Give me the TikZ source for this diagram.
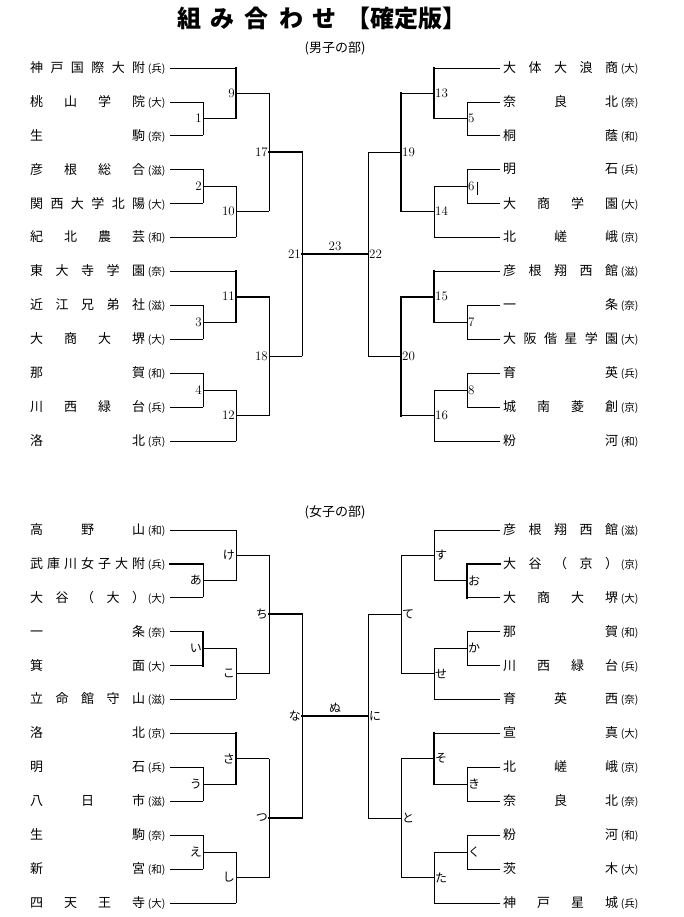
\documentclass[tikz,border=0pt]{standalone}
\usepackage{fontspec}
\newfontfamily\jp{Noto Sans CJK JP}
\def\distx#1#2{#1\ifx\relax#2\else\hfill\expandafter\distx\expandafter#2\fi}
\newcommand\dist[1]{\makebox[115pt][s]{\expandafter\distx#1\relax}}
\newcommand\pref[1]{\makebox[23pt][c]{\fontsize{10.5}{11}\selectfont(#1)}}
\newcommand\brk{%
  \foreach \y/\x in {68/236,102/203,135/203,169/203,203/203,237/236,271/236,305/203,339/203,373/203,407/203,441/236}
    \draw[thin line] (170,\y) -- (\x,\y);
  \foreach \a/\b in {102/135,169/203,305/339,373/407} \draw[thin line] (203,\a) -- (203,\b);
  \foreach \m in {118.5,186,322,390} \draw[thin line] (203,\m) -- (236,\m);
  \foreach \a/\b in {68/118.5,186/237,271/322,390/441} \draw[thin line] (236,\a) -- (236,\b);
  \foreach \m in {93,211.5,296.5,415.5} \draw[thin line] (236,\m) -- (269,\m);
  \foreach \a/\b in {93/211.5,296.5/415.5} \draw[thin line] (269,\a) -- (269,\b);
  \foreach \m in {152,356} \draw[thin line] (269,\m) -- (302,\m);
  \draw[thin line] (302,152) -- (302,356);
}
\tikzset{thin line/.style={line width=0.8pt},thick line/.style={line width=2pt,line cap=rect},
  nm/.style={anchor=west,inner sep=0pt,font=\jp\fontsize{13}{13}\selectfont},
  lab/.style={inner sep=1pt,font=\fontsize{13}{13}\selectfont},
  kana/.style={inner sep=1pt,font=\jp\fontsize{12}{12}\selectfont}}
\begin{document}
\begin{tikzpicture}[x=1pt,y=-1pt]
\useasboundingbox[fill=white] (0,0) rectangle (683,917);
\node[inner sep=0pt,font=\jp\bfseries\fontsize{24}{24}\selectfont] (title) at (322,18) {\makebox[290pt][s]{組\hfill み\hfill 合\hfill わ\hfill せ\hfill 【確定版】}};
\node[font=\jp\fontsize{13}{13}\selectfont] (boys) at (335,48) {(男子の部)};
\node[font=\jp\fontsize{13}{13}\selectfont] (girls) at (335,512) {(女子の部)};
% brackets
\brk
\begin{scope}[xshift=670pt,xscale=-1]\brk\end{scope}
\begin{scope}[yshift=-462pt]\brk\end{scope}
\begin{scope}[yshift=-462pt,xshift=670pt,xscale=-1]\brk\end{scope}
% thick winners, boys
\draw[thick line] (236,68) -- (236,118.5);
\draw[thick line] (269,152) -- (302,152);
\draw[thick line] (236,271) -- (236,322);
\draw[thick line] (236,296.5) -- (269,296.5);
\draw[thick line] (302,254) -- (368,254);
\draw[thick line] (434,68) -- (434,118.5);
\draw[thick line] (401,93) -- (401,211.5);
\draw[thick line] (434,271) -- (434,322);
\draw[thick line] (434,296.5) -- (401,296.5);
\draw[thick line] (401,296.5) -- (401,415.5);
\draw[thin line] (477,182) -- (477,195);
% thick winners, girls
\draw[thick line] (170,564) -- (203,564);
\draw[thick line] (203,632) -- (203,666);
\draw[thick line] (269,614) -- (302,614);
\draw[thick line] (236,733) -- (236,784);
\draw[thick line] (269,818) -- (302,818);
\draw[thick line] (302,716) -- (368,716);
\draw[thick line] (500,564) -- (467,564) -- (467,598);
\draw[thick line] (434,733) -- (434,784);
% names
\foreach \i/\n/\p in {0/神戸国際大附/兵,1/桃山学院/大,2/生駒/奈,3/彦根総合/滋,4/関西大学北陽/大,5/紀北農芸/和,6/東大寺学園/奈,7/近江兄弟社/滋,8/大商大堺/大,9/那賀/和,10/川西緑台/兵,11/洛北/京}
  \node[nm] (bl\i) at (30,68+33.9*\i) {\dist{\n}\pref{\p}};
\foreach \i/\n/\p in {0/大体大浪商/大,1/奈良北/奈,2/桐蔭/和,3/明石/兵,4/大商学園/大,5/北嵯峨/京,6/彦根翔西館/滋,7/一条/奈,8/大阪偕星学園/大,9/育英/兵,10/城南菱創/京,11/粉河/和}
  \node[nm] (br\i) at (503,68+33.9*\i) {\dist{\n}\pref{\p}};
\foreach \i/\n/\p in {0/高野山/和,1/武庫川女子大附/兵,2/大谷（大）/大,3/一条/奈,4/箕面/大,5/立命館守山/滋,6/洛北/京,7/明石/兵,8/八日市/滋,9/生駒/奈,10/新宮/和,11/四天王寺/大}
  \node[nm] (gl\i) at (30,530+33.9*\i) {\dist{\n}\pref{\p}};
\foreach \i/\n/\p in {0/彦根翔西館/滋,1/大谷（京）/京,2/大商大堺/大,3/那賀/和,4/川西緑台/兵,5/育英西/奈,6/宣真/大,7/北嵯峨/京,8/奈良北/奈,9/粉河/和,10/茨木/大,11/神戸星城/兵}
  \node[nm] (gr\i) at (503,530+33.9*\i) {\dist{\n}\pref{\p}};
% match labels boys
\foreach \t/\x/\y in {1/203/118.5,2/203/186,3/203/322,4/203/390,9/236/93,10/236/211.5,11/236/296.5,12/236/415.5,17/269/152,18/269/356,21/302/254}
  \node[lab,anchor=east] (ml\t) at (\x,\y) {\t};
\foreach \t/\x/\y in {5/467/118.5,6/467/186,7/467/322,8/467/390,13/434/93,14/434/211.5,15/434/296.5,16/434/415.5,19/401/152,20/401/356,22/368/254}
  \node[lab,anchor=west] (mr\t) at (\x,\y) {\t};
\node[lab] (m23) at (335,246) {23};
% match labels girls
\foreach \t/\x/\y in {あ/203/580.5,い/203/648,う/203/784,え/203/852,け/236/555,こ/236/673.5,さ/236/758.5,し/236/877.5,ち/269/614,つ/269/818,な/302/716}
  \node[kana,anchor=east] (gl-\t) at (\x,\y) {\t};
\foreach \t/\x/\y in {お/467/580.5,か/467/648,き/467/784,く/467/852,す/434/555,せ/434/673.5,そ/434/758.5,た/434/877.5,て/401/614,と/401/818,に/368/716}
  \node[kana,anchor=west] (gr-\t) at (\x,\y) {\t};
\node[kana] (gnu) at (335,708) {ぬ};
\end{tikzpicture}
\end{document}
